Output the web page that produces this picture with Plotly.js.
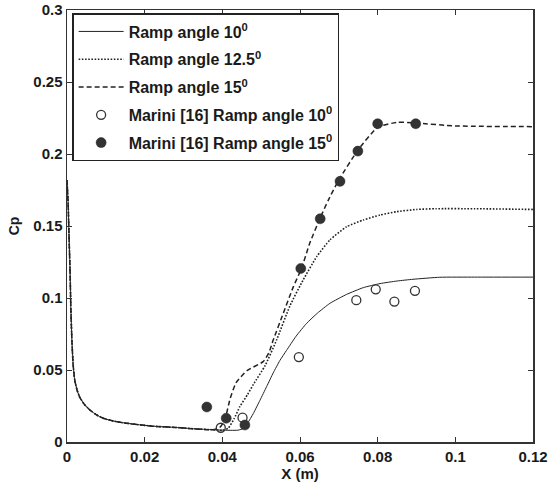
<!DOCTYPE html>
<html>
<head>
<meta charset="utf-8">
<script src="https://cdn.plot.ly/plotly-3.0.1.min.js"></script>
<style>
  html, body { margin: 0; padding: 0; background: #fff; }
  #chart { width: 551px; height: 486px; }
</style>
</head>
<body>
<div id="chart"></div>
<script>
// Pressure coefficient along the ramp wall, three ramp angles plus Marini's data

// Shared upstream part (all three computations coincide here)
const commonX = [0, 0.0003, 0.0005, 0.0008, 0.001, 0.0013, 0.0016, 0.002, 0.0026, 0.0033, 0.0045, 0.006, 0.0075, 0.0093, 0.012, 0.0154, 0.022, 0.028, 0.0325, 0.0376];
const commonY = [0.182, 0.165, 0.145, 0.117, 0.092, 0.068, 0.053, 0.043, 0.036, 0.031, 0.026, 0.022, 0.019, 0.0165, 0.0145, 0.013, 0.011, 0.0101, 0.0092, 0.0085];

// Ramp angle 10 deg (solid)
const ramp10X = [0.04, 0.044, 0.0455, 0.0465, 0.048, 0.0497, 0.0514, 0.0531, 0.0548, 0.0565, 0.059, 0.0617, 0.0645, 0.0677, 0.072, 0.0763, 0.0806, 0.085, 0.0891, 0.096, 0.105, 0.12];
const ramp10Y = [0.0082, 0.0082, 0.0095, 0.013, 0.0199, 0.029, 0.0384, 0.048, 0.0565, 0.0635, 0.0735, 0.0824, 0.0895, 0.0963, 0.1025, 0.1072, 0.110, 0.1118, 0.1130, 0.1144, 0.1145, 0.1145];

// Ramp angle 12.5 deg (dotted)
const ramp125X = [0.04, 0.0415, 0.043, 0.0445, 0.0465, 0.048, 0.051, 0.054, 0.0574, 0.0608, 0.0643, 0.0677, 0.072, 0.0763, 0.0806, 0.085, 0.09, 0.095, 0.105, 0.12];
const ramp125Y = [0.0082, 0.0095, 0.016, 0.0245, 0.033, 0.040, 0.053, 0.071, 0.0945, 0.1125, 0.1287, 0.1403, 0.1495, 0.1542, 0.1576, 0.160, 0.1615, 0.162, 0.162, 0.1615];

// Ramp angle 15 deg (dashed)
const ramp15X = [0.0395, 0.0407, 0.042, 0.0435, 0.0463, 0.0505, 0.052, 0.0531, 0.0557, 0.0583, 0.0604, 0.0625, 0.0651, 0.0673, 0.07, 0.075, 0.08, 0.085, 0.09, 0.1, 0.12];
const ramp15Y = [0.0105, 0.016, 0.03, 0.041, 0.0495, 0.0558, 0.062, 0.0708, 0.0894, 0.1079, 0.1206, 0.138, 0.155, 0.168, 0.182, 0.203, 0.2185, 0.222, 0.2215, 0.2195, 0.219];

// Marini [16] measurements
const marini10X = [0.0396, 0.0452, 0.0597, 0.0745, 0.0795, 0.0843, 0.0896];
const marini10Y = [0.0099, 0.0169, 0.059, 0.0985, 0.106, 0.0975, 0.105];
const marini15X = [0.036, 0.041, 0.0458, 0.0602, 0.0652, 0.0703, 0.0749, 0.08, 0.0898];
const marini15Y = [0.0243, 0.0165, 0.0118, 0.1205, 0.155, 0.181, 0.202, 0.221, 0.221];

// Legend labels
const labels = [
  'Ramp angle 10<sup>0</sup>',
  'Ramp angle 12.5<sup>0</sup>',
  'Ramp angle 15<sup>0</sup>',
  'Marini [16] Ramp angle 10<sup>0</sup>',
  'Marini [16] Ramp angle 15<sup>0</sup>'
];

const xTicks = [0, 0.02, 0.04, 0.06, 0.08, 0.1, 0.12];
const yTicks = [0, 0.05, 0.1, 0.15, 0.2, 0.25, 0.3];

const ink = '#1a1a1a';
const fontFamily = 'Liberation Sans, Arial, sans-serif';

const traces = [
  {
    x: commonX.concat(ramp10X), y: commonY.concat(ramp10Y),
    mode: 'lines', name: labels[0], legendgroup: 'a',
    line: { color: '#222', width: 1, dash: 'solid', shape: 'spline', smoothing: 0.5 }
  },
  {
    x: commonX.concat(ramp125X), y: commonY.concat(ramp125Y),
    mode: 'lines', name: labels[1], legendgroup: 'b',
    line: { color: '#222', width: 1.6, dash: '1.6px,1.6px', shape: 'spline', smoothing: 0.5 }
  },
  {
    x: commonX.concat(ramp15X), y: commonY.concat(ramp15Y),
    mode: 'lines', name: labels[2], legendgroup: 'c',
    line: { color: '#222', width: 1.5, dash: '5px,3px', shape: 'spline', smoothing: 0.5 }
  },
  {
    x: marini10X, y: marini10Y,
    mode: 'markers', name: labels[3], legendgroup: 'd',
    marker: { symbol: 'circle-open', size: 9, color: '#333', line: { width: 1.3, color: '#333' } }
  },
  {
    x: marini15X, y: marini15Y,
    mode: 'markers', name: labels[4], legendgroup: 'e',
    marker: { symbol: 'circle', size: 10, color: '#333', line: { width: 0.5, color: '#222' } }
  }
];

const axisCommon = {
  showgrid: false, zeroline: false,
  showline: true, linecolor: '#333', linewidth: 1.5, mirror: 'ticks',
  ticks: 'inside', ticklen: 5, tickwidth: 1, tickcolor: '#333',
  tickfont: { family: fontFamily, size: 15, color: ink, weight: 'bold' }
};

const layout = {
  width: 551, height: 486,
  margin: { l: 67, r: 18, t: 10, b: 44, pad: 0 },
  paper_bgcolor: '#fff', plot_bgcolor: '#fff',
  font: { family: fontFamily, size: 15, color: ink, weight: 'bold' },
  showlegend: true,
  xaxis: Object.assign({}, axisCommon, {
    range: [0, 0.12], tickvals: xTicks,
    ticktext: xTicks.map(String),
    title: { text: 'X (m)', standoff: 0, font: { size: 15, weight: 'bold' } }
  }),
  yaxis: Object.assign({}, axisCommon, {
    range: [0, 0.3], tickvals: yTicks,
    ticktext: yTicks.map(String),
    title: { text: 'Cp', standoff: 10, font: { size: 14, weight: 'bold' } }
  }),
  legend: {
    x: 0.011, y: 0.993, xanchor: 'left', yanchor: 'top',
    bgcolor: '#fff', bordercolor: '#222', borderwidth: 1.5,
    font: { size: 16, weight: 'bold', color: ink, family: fontFamily },
    itemwidth: 45,
    tracegroupgap: 4, traceorder: 'grouped'
  }
};

Plotly.newPlot('chart', traces, layout, { staticPlot: true, displayModeBar: false });
</script>
</body>
</html>
